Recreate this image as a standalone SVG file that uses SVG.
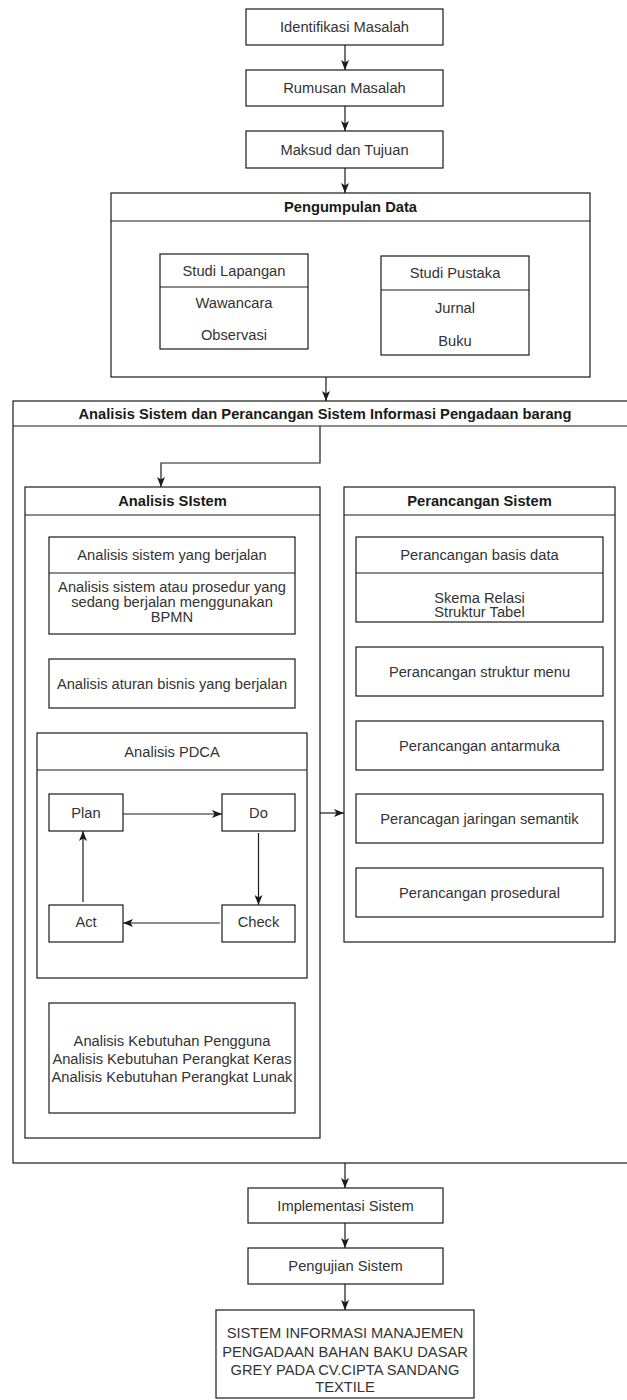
<svg xmlns="http://www.w3.org/2000/svg" width="627" height="1400" viewBox="0 0 627 1400">
<style>
rect{fill:#fff;stroke:#1a1a1a;stroke-width:1.2}
.d{stroke:#1a1a1a;stroke-width:1.2;fill:none}
text{font-family:"Liberation Sans",Arial,sans-serif;font-size:14.7px;fill:#333;text-anchor:middle;dominant-baseline:central}
.b{font-weight:bold;fill:#1a1a1a}
.c{stroke:#1a1a1a;stroke-width:1.2;fill:none;marker-end:url(#ah)}
</style>
<defs>
<marker id="ah" markerUnits="userSpaceOnUse" viewBox="0 0 10 8" markerWidth="10" markerHeight="8" refX="10" refY="4" orient="auto">
<path d="M0,0 L10,4 L0,8 L2.5,4 z" fill="#1a1a1a"/>
</marker>
</defs>
<rect x="0" y="0" width="627" height="1400" style="fill:#fff;stroke:none"/>

<g id="identifikasi"><rect x="246" y="9" width="197" height="36"/><text x="344.5" y="27">Identifikasi Masalah</text></g>
<g id="rumusan"><rect x="246" y="70" width="197" height="36"/><text x="344.5" y="88">Rumusan Masalah</text></g>
<g id="maksud"><rect x="246" y="131" width="197" height="37"/><text x="344.5" y="149.5">Maksud dan Tujuan</text></g>

<g id="pengumpulan">
<rect x="111" y="193" width="479" height="184"/><line class="d" x1="111" y1="221" x2="590" y2="221"/>
<text class="b" x="350.5" y="207">Pengumpulan Data</text>
</g>
<g id="studi-lapangan">
<rect x="160" y="254" width="148" height="95"/><line class="d" x1="160" y1="287" x2="308" y2="287"/>
<text x="234" y="270.5">Studi Lapangan</text><text x="234" y="303">Wawancara</text><text x="234" y="335">Observasi</text>
</g>
<g id="studi-pustaka">
<rect x="381" y="256" width="148" height="99"/><line class="d" x1="381" y1="290" x2="529" y2="290"/>
<text x="455" y="273">Studi Pustaka</text><text x="455" y="308">Jurnal</text><text x="455" y="340.5">Buku</text>
</g>

<g id="analisis-perancangan">
<rect x="13" y="401" width="640" height="762"/><line class="d" x1="13" y1="426" x2="653" y2="426"/>
<text class="b" x="325" y="413.5">Analisis Sistem dan Perancangan Sistem Informasi Pengadaan barang</text>
</g>

<g id="analisis-sistem">
<rect x="25" y="487" width="295" height="651"/><line class="d" x1="25" y1="515" x2="320" y2="515"/>
<text class="b" x="172.5" y="501">Analisis SIstem</text>
</g>
<g id="analisis-berjalan">
<rect x="49" y="537" width="246" height="97"/><line class="d" x1="49" y1="573" x2="295" y2="573"/>
<text x="172" y="555">Analisis sistem yang berjalan</text>
<text x="172" y="587">Analisis sistem atau prosedur yang</text>
<text x="172" y="602">sedang berjalan menggunakan</text>
<text x="172" y="617">BPMN</text>
</g>
<g id="analisis-aturan"><rect x="49" y="659" width="246" height="49"/><text x="172" y="683.5">Analisis aturan bisnis yang berjalan</text></g>
<g id="analisis-pdca">
<rect x="37" y="733" width="270" height="245"/><line class="d" x1="37" y1="770" x2="307" y2="770"/>
<text x="172" y="751.5">Analisis PDCA</text>
</g>
<g id="plan"><rect x="49" y="794" width="74" height="37"/><text x="86" y="812.5">Plan</text></g>
<g id="do"><rect x="222" y="794" width="73" height="37"/><text x="258.5" y="812.5">Do</text></g>
<g id="check"><rect x="222" y="905" width="73" height="37"/><text x="258.5" y="922">Check</text></g>
<g id="act"><rect x="49" y="905" width="74" height="37"/><text x="86" y="922">Act</text></g>
<g id="analisis-kebutuhan">
<rect x="49" y="1003" width="246" height="110"/>
<text x="172" y="1041">Analisis Kebutuhan Pengguna</text>
<text x="172" y="1059">Analisis Kebutuhan Perangkat Keras</text>
<text x="172" y="1077">Analisis Kebutuhan Perangkat Lunak</text>
</g>

<g id="perancangan-sistem">
<rect x="344" y="487" width="271" height="455"/><line class="d" x1="344" y1="515" x2="615" y2="515"/>
<text class="b" x="479.5" y="501">Perancangan Sistem</text>
</g>
<g id="perancangan-basis-data">
<rect x="356" y="537" width="247" height="85"/><line class="d" x1="356" y1="573" x2="603" y2="573"/>
<text x="479.5" y="555">Perancangan basis data</text>
<text x="479.5" y="598">Skema Relasi</text>
<text x="479.5" y="612">Struktur Tabel</text>
</g>
<g id="perancangan-menu"><rect x="356" y="647" width="247" height="49"/><text x="479.5" y="671.5">Perancangan struktur menu</text></g>
<g id="perancangan-antarmuka"><rect x="356" y="721" width="247" height="49"/><text x="479.5" y="745.5">Perancangan antarmuka</text></g>
<g id="perancangan-jaringan"><rect x="356" y="794" width="247" height="49"/><text x="479.5" y="818.5">Perancagan jaringan semantik</text></g>
<g id="perancangan-prosedural"><rect x="356" y="868" width="247" height="49"/><text x="479.5" y="892.5">Perancangan prosedural</text></g>

<g id="implementasi"><rect x="248" y="1188" width="195" height="35"/><text x="345.5" y="1205.5">Implementasi Sistem</text></g>
<g id="pengujian"><rect x="248" y="1248" width="195" height="36"/><text x="345.5" y="1266">Pengujian Sistem</text></g>
<g id="hasil">
<rect x="216" y="1310" width="258" height="88"/>
<text x="345" y="1333">SISTEM INFORMASI MANAJEMEN</text>
<text x="345" y="1351.5">PENGADAAN BAHAN BAKU DASAR</text>
<text x="345" y="1370">GREY PADA CV.CIPTA SANDANG</text>
<text x="345" y="1387">TEXTILE</text>
</g>

<g id="connectors">
<line class="c" x1="345" y1="45" x2="345" y2="70"/>
<line class="c" x1="345" y1="106" x2="345" y2="131"/>
<line class="c" x1="345" y1="168" x2="345" y2="193"/>
<line class="c" x1="326" y1="377" x2="326" y2="401"/>
<path class="c" d="M320,426 V463 H161 V487"/>
<line class="c" x1="123" y1="814" x2="222" y2="814"/>
<line class="c" x1="258.5" y1="833" x2="258.5" y2="905"/>
<line class="c" x1="220" y1="923" x2="123" y2="923"/>
<line class="c" x1="83" y1="902" x2="83" y2="831"/>
<line class="c" x1="320" y1="813" x2="344" y2="813"/>
<line class="c" x1="345" y1="1163" x2="345" y2="1188"/>
<line class="c" x1="345" y1="1223" x2="345" y2="1248"/>
<line class="c" x1="345" y1="1284" x2="345" y2="1310"/>
</g>
</svg>
